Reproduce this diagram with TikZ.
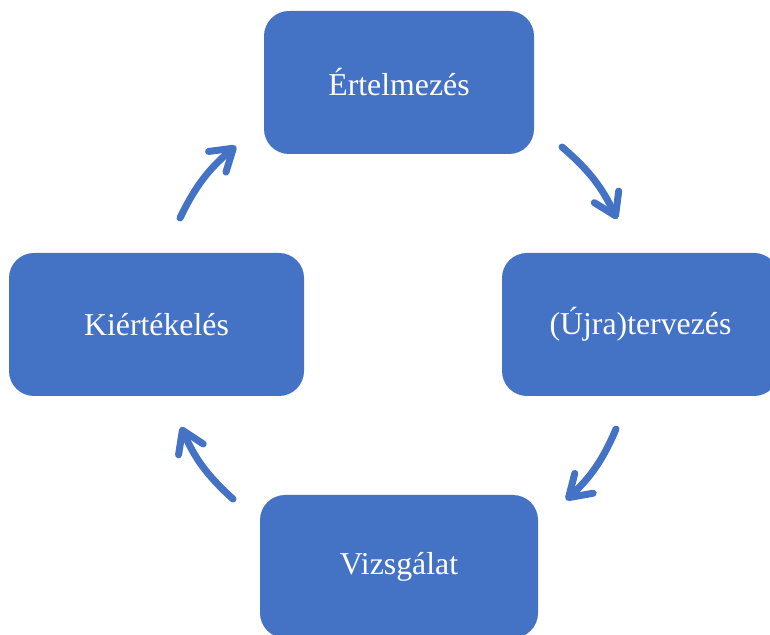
\documentclass[tikz,border=0pt]{standalone}
\usepackage{fontspec}
\setmainfont{Liberation Serif}
\usetikzlibrary{arrows.meta}
\definecolor{stepblue}{HTML}{4472C4}

\begin{document}
\begin{tikzpicture}[x=1pt, y=1pt,
		phase/.style={rectangle, rounded corners=25pt, fill=stepblue, text=white,
			minimum height=143pt, inner sep=0pt, font=\fontsize{31.8}{36}\selectfont},
		cycle/.style={draw=stepblue, line width=7pt, line cap=round,
			-{Straight Barb[length=21pt, width=27pt, round]}}]
		\useasboundingbox (0, 0) rectangle (770, 634);
		\path (399, 551.5) node(ert) [phase, minimum width=270pt] {Értelmezés};
		\path (640.5, 309.5) node(terv) [phase, minimum width=277pt] {(Újra)tervezés};
		\path (399, 67.5) node(vizs) [phase, minimum width=278pt] {Vizsgálat};
		\path (156.5, 309.5) node(kiert) [phase, minimum width=295pt] {Kiértékelés};
		\coordinate (a1) at (562, 487);
		\coordinate (b1) at (617, 415);
		\coordinate (a2) at (616, 205);
		\coordinate (b2) at (566, 134);
		\coordinate (a3) at (233, 135);
		\coordinate (b3) at (181, 207);
		\coordinate (a4) at (180, 416);
		\coordinate (b4) at (236, 488);
		\draw [cycle] (a1) to[bend left=12] (b1);
		\draw [cycle] (a2) to[bend left=12] (b2);
		\draw [cycle] (a3) to[bend left=12] (b3);
		\draw [cycle] (a4) to[bend left=12] (b4);
	\end{tikzpicture}
\end{document}
